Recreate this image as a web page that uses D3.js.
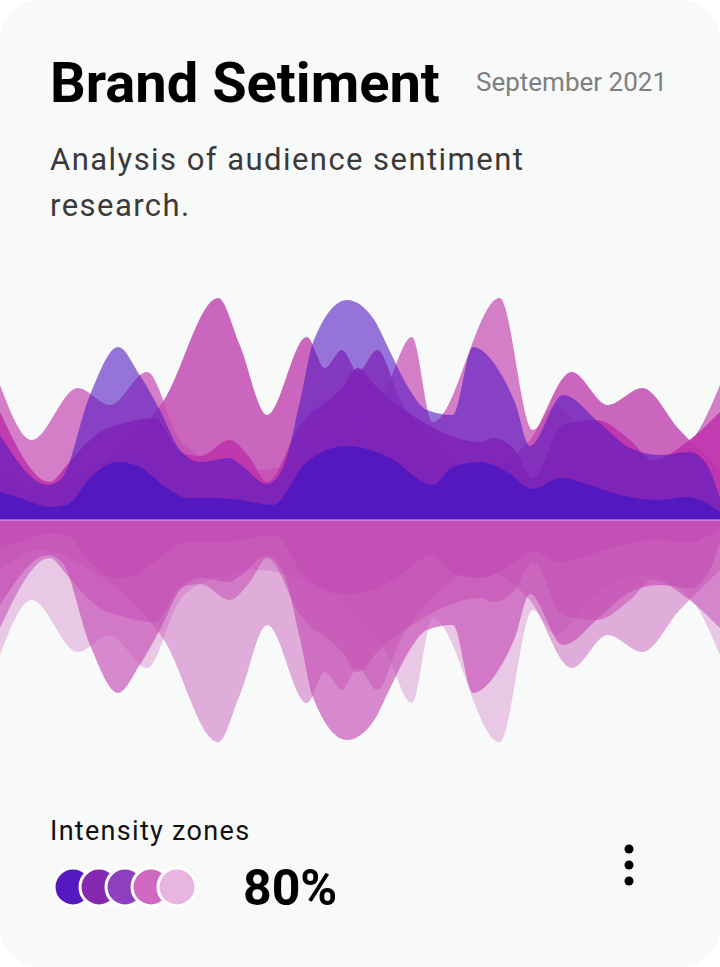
<!DOCTYPE html>
<html lang="en">
<head>
    <meta charset="utf-8">
    <title>Brand Setiment</title>
    <script src="https://d3js.org/d3.v7.min.js"></script>
    <style>
        html, body { margin: 0; padding: 0; background: #ffffff; }
        svg { display: block; font-family: Roboto, "Open Sans", sans-serif; }
    </style>
</head>
<body>
<div id="chart"></div>
<script>
    // position along the month (0-100) and intensity of each zone
    const lightPink = [[0,135],[4.4,80],[10.8,132],[15.3,115],[20.4,148],[25,80],[29.9,58],[36.1,50],[41.7,60],[48.6,90],[53.5,130],[57.2,183],[60.1,98],[69.4,222],[74,90],[77.2,115],[81.9,80],[88.9,55],[95.8,78],[100,135]];
    const darkPink = [[0,50],[5.6,30],[12.5,50],[18.1,80],[22.6,118],[30.3,222],[33.3,175],[37.1,105],[42.6,183],[45.1,152],[47.5,170],[49.7,148],[52.4,170],[55.6,120],[59.7,80],[66.7,50],[73.6,80],[79.4,148],[84.4,115],[89.2,132],[94.4,90],[100,50]];
    const magenta = [[0,108],[6.9,38],[9.3,55],[11.5,73],[13.9,88],[16.3,95],[21.5,102],[25,68],[27.8,64],[31.9,80],[34.7,62],[37.1,38],[41.7,95],[47.5,132],[49.7,152],[52.4,132],[58.3,100],[66.7,78],[68.5,82],[71.3,72],[74,42],[78.2,95],[82.9,100],[87.5,80],[90.7,60],[95.4,78],[100,108]];
    const lavender = [[0,85],[6.7,35],[8.6,42],[12.5,125],[16.4,173],[19.4,145],[22.2,110],[25,70],[27.8,58],[31.9,62],[33.3,56],[37.1,36],[39.3,52],[41.7,120],[43.5,178],[48.2,220],[51.8,202],[54.2,168],[56.5,135],[59.3,110],[62.9,105],[65.7,173],[69.4,148],[71.5,118],[73.6,74],[78.2,125],[83.3,97],[87.5,72],[91.7,65],[95.8,68],[98.2,55],[100,22]];
    const indigo = [[0,28],[2.8,22],[6.9,13],[9.3,15],[12.5,42],[16.3,58],[19.4,53],[23.2,32],[26,22],[29.6,22],[33.3,20],[37.9,15],[42.6,58],[48.2,74],[54.2,62],[60.1,35],[62.9,53],[66.7,58],[70.4,48],[74,31],[77.8,42],[81.9,35],[86.1,25],[91.7,20],[95.4,23],[100,8]];

    const seriesNames = ["lightPink", "darkPink", "magenta", "lavender", "indigo"];
    const seriesData = [lightPink, darkPink, magenta, lavender, indigo];
    const upperColors = ["#cf68c0", "#c44fb4", "#bc30ac", "#5519c1", "#5218c0"];
    const upperOpacity = [0.85, 0.87, 0.85, 0.6, 0.97];
    const lowerColors = ["#c855b8", "#c44fb4", "#c44fb4", "#c44fb4", "#c44fb4"];
    const lowerOpacity = [0.3, 0.45, 0.55, 0.66, 0.95];

    const zoneColors = ["#5519c1", "#8428b0", "#8e3fbd", "#cf68c0", "#e8b4e0"];
    const zoneValue = "80%";

    const width = 720, height = 967;

    const svg = d3.select("#chart").append("svg")
        .attr("width", width)
        .attr("height", height);

    svg.append("rect")
        .attr("width", width)
        .attr("height", height)
        .attr("rx", 40)
        .attr("fill", "#f8f9f9");

    // header
    svg.append("text")
        .attr("x", 50).attr("y", 102)
        .attr("font-size", 56).attr("font-weight", 700)
        .attr("fill", "#000")
        .text("Brand Setiment");

    svg.append("text")
        .attr("x", 667).attr("y", 91)
        .attr("text-anchor", "end")
        .attr("font-size", 26)
        .attr("fill", "#7f7f7f")
        .text("September 2021");

    const sub = svg.append("text")
        .attr("font-size", 31)
        .attr("fill", "#3a3a3a")
        .attr("letter-spacing", 1.45);
    sub.append("tspan").attr("x", 50).attr("y", 170).text("Analysis of audience sentiment");
    sub.append("tspan").attr("x", 50).attr("y", 216).text("research.");

    // waves
    const x = d3.scaleLinear().domain([0, 100]).range([0, width]);
    const yUp = d3.scaleLinear().domain([0, 240]).range([520, 280]);
    const yDown = d3.scaleLinear().domain([0, 240]).range([520, 760]);

    const areaUp = d3.area()
        .curve(d3.curveMonotoneX)
        .x(d => x(d[0]))
        .y0(yUp(0))
        .y1(d => yUp(d[1]));

    const areaDown = d3.area()
        .curve(d3.curveMonotoneX)
        .x(d => x(d[0]))
        .y0(yDown(0))
        .y1(d => yDown(d[1]));

    svg.append("g")
        .selectAll("path")
        .data(seriesData)
        .join("path")
        .attr("class", (d, i) => "up " + seriesNames[i])
        .attr("fill", (d, i) => upperColors[i])
        .attr("fill-opacity", (d, i) => upperOpacity[i])
        .attr("d", areaUp);

    svg.append("g")
        .selectAll("path")
        .data(seriesData)
        .join("path")
        .attr("class", (d, i) => "down " + seriesNames[i])
        .attr("fill", (d, i) => lowerColors[i])
        .attr("fill-opacity", (d, i) => lowerOpacity[i])
        .attr("d", areaDown);

    svg.append("line")
        .attr("x1", x(0)).attr("x2", x(100))
        .attr("y1", yUp(0)).attr("y2", yUp(0))
        .attr("stroke", "#dcb0e6")
        .attr("stroke-width", 1);

    // footer
    svg.append("text")
        .attr("x", 50).attr("y", 840)
        .attr("font-size", 27)
        .attr("letter-spacing", 1.3)
        .attr("fill", "#111")
        .text("Intensity zones");

    svg.append("g")
        .selectAll("circle")
        .data(zoneColors)
        .join("circle")
        .attr("cx", (d, i) => 73 + i * 26)
        .attr("cy", 887)
        .attr("r", 19)
        .attr("fill", d => d)
        .attr("stroke", "#ffffff")
        .attr("stroke-width", 3);

    svg.append("text")
        .attr("x", 243).attr("y", 905)
        .attr("font-size", 50).attr("font-weight", 700)
        .attr("fill", "#000")
        .text(zoneValue);

    svg.append("g")
        .selectAll("circle")
        .data([849, 865, 881])
        .join("circle")
        .attr("cx", 629)
        .attr("cy", d => d)
        .attr("r", 4.5)
        .attr("fill", "#000");
</script>
</body>
</html>
